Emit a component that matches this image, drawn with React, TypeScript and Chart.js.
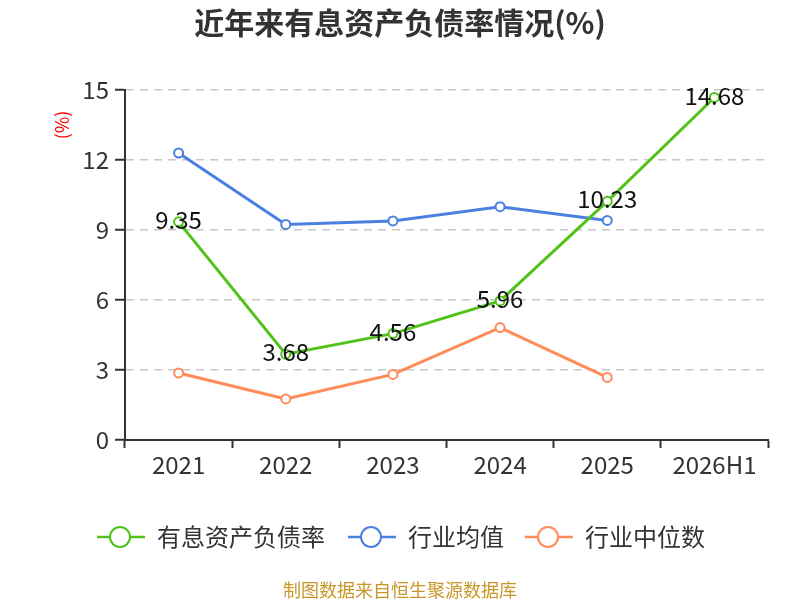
import { useEffect, useRef } from 'react';
import { Chart, registerables } from 'chart.js';

Chart.register(...registerables);

const years = ['2021', '2022', '2023', '2024', '2025', '2026H1'];
const debtRatio = [9.35, 3.68, 4.56, 5.96, 10.23, 14.68];
const industryMean = [12.3, 9.24, 9.39, 10.0, 9.41, null];
const industryMedian = [2.87, 1.76, 2.81, 4.82, 2.68, null];
const yTicks = [0, 3, 6, 9, 12, 15];

const seriesNames = ['有息资产负债率', '行业均值', '行业中位数'];
const seriesColors = ['#52c21a', '#4a80e2', '#ff8c58'];

const FONT = '"Noto Sans CJK SC", "Noto Sans", sans-serif';

// titles, legend, footer and value labels drawn by hand
const decorPlugin = {
  id: 'decor',
  afterDraw(chart: Chart) {
    const ctx = chart.ctx;
    ctx.save();

    ctx.fillStyle = '#333';
    ctx.font = `bold 30px ${FONT}`;
    ctx.textAlign = 'center';
    ctx.textBaseline = 'middle';
    ctx.fillText('近年来有息资产负债率情况(%)', 400, 23);

    ctx.save();
    ctx.translate(62, 125);
    ctx.rotate(-Math.PI / 2);
    ctx.fillStyle = '#ff0000';
    ctx.font = `18px ${FONT}`;
    ctx.fillText('(%)', 0, 0);
    ctx.restore();

    // value labels for the main series
    const meta = chart.getDatasetMeta(0);
    ctx.fillStyle = '#111';
    ctx.font = `24px ${FONT}`;
    meta.data.forEach((pt: any, i: number) => {
      ctx.fillText(debtRatio[i].toFixed(2), pt.x, pt.y - 2);
    });

    // legend
    const starts = [97, 348, 525];
    ctx.font = `24px ${FONT}`;
    ctx.textAlign = 'left';
    seriesNames.forEach((name, i) => {
      const x = starts[i];
      const y = 537;
      ctx.strokeStyle = seriesColors[i];
      ctx.lineWidth = 2.5;
      ctx.beginPath();
      ctx.moveTo(x, y);
      ctx.lineTo(x + 48, y);
      ctx.stroke();
      ctx.beginPath();
      ctx.arc(x + 23, y, 10, 0, Math.PI * 2);
      ctx.fillStyle = '#fff';
      ctx.fill();
      ctx.lineWidth = 2;
      ctx.stroke();
      ctx.fillStyle = '#333';
      ctx.fillText(name, x + 60, y);
    });

    ctx.fillStyle = '#c9962a';
    ctx.font = `18px ${FONT}`;
    ctx.textAlign = 'center';
    ctx.fillText('制图数据来自恒生聚源数据库', 400, 590);

    ctx.restore();
  },
};

export default function App() {
  const chartRef = useRef<HTMLCanvasElement>(null);
  const chartInstance = useRef<Chart | null>(null);

  useEffect(() => {
    document.body.style.margin = '0';
    if (!chartRef.current) return;

    const lineSet = (label: string, data: (number | null)[], color: string) => ({
      label,
      data,
      borderColor: color,
      backgroundColor: color,
      borderWidth: 3,
      pointRadius: 4.5,
      pointBorderWidth: 2,
      pointBackgroundColor: '#fff',
      pointBorderColor: color,
      tension: 0,
      spanGaps: false,
    });

    chartInstance.current = new Chart(chartRef.current, {
      type: 'line',
      data: {
        labels: years,
        datasets: [
          lineSet(seriesNames[0], debtRatio, seriesColors[0]),
          lineSet(seriesNames[1], industryMean, seriesColors[1]),
          lineSet(seriesNames[2], industryMedian, seriesColors[2]),
        ],
      },
      options: {
        responsive: false,
        animation: false,
        devicePixelRatio: 1,
        layout: { padding: { top: 90, left: 0, right: 32, bottom: 100 } },
        plugins: {
          legend: { display: false },
          title: { display: false },
          tooltip: { enabled: false },
        },
        scales: {
          x: {
            offset: true,
            afterFit: (scale: any) => { scale.height = 60; },
            grid: {
              offset: true,
              drawOnChartArea: false,
              drawTicks: true,
              tickLength: 8,
              tickColor: '#333',
              tickWidth: 2,
            },
            border: { color: '#333', width: 2 },
            ticks: {
              color: '#333',
              font: { size: 24, family: FONT },
              padding: 2,
              maxRotation: 0,
            },
          },
          y: {
            min: 0,
            max: 15,
            afterFit: (scale: any) => { scale.width = 125; },
            afterBuildTicks: (scale: any) => {
              scale.ticks = yTicks.map(v => ({ value: v }));
            },
            grid: {
              color: (c: any) => (c.tick && c.tick.value === 0 ? 'rgba(0,0,0,0)' : '#c8c8c8'),
              lineWidth: 1.5,
              tickLength: 10,
              tickColor: '#333',
              tickWidth: 2,
              tickBorderDash: [],
            },
            // in v4, border.dash dashes the grid lines
            border: { color: '#333', width: 2, dash: [8, 6] },
            ticks: {
              color: '#333',
              font: { size: 24, family: FONT },
              padding: 6,
            },
          },
        },
      },
      plugins: [decorPlugin],
    } as any);

    return () => {
      chartInstance.current?.destroy();
      chartInstance.current = null;
    };
  }, []);

  return (
    <div style={{ width: 800, height: 600 }}>
      <canvas ref={chartRef} width={800} height={600} />
    </div>
  );
}
